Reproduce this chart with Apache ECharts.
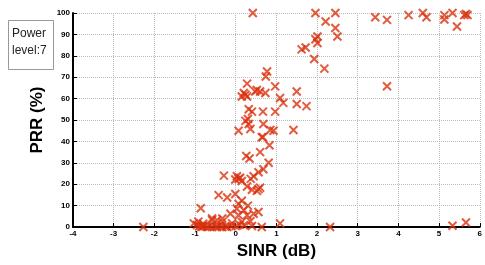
<!DOCTYPE html>
<html>
<head>
<meta charset="utf-8">
<title>PRR vs SINR</title>
<script src="https://cdn.jsdelivr.net/npm/echarts@6/dist/echarts.min.js"></script>
<style>
  html, body { margin: 0; padding: 0; background: #fff; }
  #chart { width: 485px; height: 265px; }
</style>
</head>
<body>
<div id="chart"></div>
<script>
// SINR (dB) / PRR (%) pairs
var sinr = [
  0.42, 1.96, 2.45, 2.21, 2.45, 2.5, 2.01, 1.96, 2.01, 1.62, 1.72, 1.93, 2.18,
  3.43, 3.72, 4.25, 4.6, 4.69, 5.13, 5.13, 5.33, 5.44, 5.62, 5.7, 5.66, 3.72,
  0.77, 0.74, 0.28, 0.97, 0.2, 0.15, 0.24, 0.28, 0.52, 0.6, 0.48, 0.73, 1.5, 1.09, 1.17, 1.5, 1.74,
  0.32, 0.4, 0.67, 0.97, 0.24, 0.32, 0.36, 0.07, 0.68, 0.85, 0.93, 0.64, 1.42, 0.3,
  0.67, 0.83, 0.6, 0.26, 0.34, 0.81, 0.68, 0.56, 0.44, 0.37, -0.29, 0.03, 0.07, 0.11, -0.01, 0.15,
  0.28, 0.56, 0.4, 0.52, 0.6,
  -0.42, -0.21, -0.01, 0.15, 0.07, 0.03, 0.2, 0.3, -0.86, -0.13, 0.07, 0.28, 0.44, 0.56,
  -0.58, -0.33, -0.09, 0.15, 0.36, 0.64, 1.09, 2.32, 5.33, 5.66, -2.27, -0.58, -0.33, -0.46,
  -1.03, -0.95, -0.9, -0.85, -0.82, -0.78, -0.7, -0.65, -0.58, -0.5, -0.46, -0.38, -0.33,
  -0.25, -0.21, -0.1, 0.0, 0.1, 0.2, 0.4, -0.92, -0.8
];
var prr = [
  100, 100, 100, 96, 93, 89, 89, 87.7, 86, 83, 83.9, 78.5, 74,
  98, 96.8, 99, 100, 98, 99, 97, 100, 93.7, 99, 99, 99.5, 65.8,
  72.7, 70.3, 67, 65.7, 62.6, 61, 61.8, 61, 64, 63.3, 63.3, 62.6, 63.3, 60.3, 58, 57.5, 56.5,
  55, 53.9, 53.9, 53.9, 49.6, 48.1, 45.8, 45, 48.1, 45.3, 45, 42, 45.3, 50.5,
  42, 38.2, 35, 33.2, 32, 30, 27, 25.6, 23.7, 22.5, 24, 23.7, 22.5, 23, 22.2, 21.5,
  18.9, 17.7, 17.4, 16.9, 18.4,
  14.9, 13.8, 15.4, 12.3, 10.8, 8.5, 7.8, 10, 8.8, 6.2, 5.5, 5.5, 6.2, 7,
  3.2, 2.4, 1.7, 2.4, 2.7, 0, 1.7, 0, 0.6, 2.1, 0, 4, 4, 3.2,
  1.7, 0.9, 0.3, 0.2, 0.1, 0.5, 0, 0.3, 0, 0.2, 0, 0.4, 0,
  0.2, 0, 0.3, 0.5, 1.0, 0.8, 0.5, 2.5, 1.5
];

var points = sinr.map(function (x, i) { return [x, prr[i]]; });

var chart = echarts.init(document.getElementById('chart'));
var labelFont = { fontFamily: 'Liberation Sans, Arial, sans-serif', fontWeight: 'bold', fontSize: 8, color: '#000' };

chart.setOption({
  animation: false,
  title: {
    text: 'Power\nlevel:7',
    left: 8,
    top: 20,
    padding: [5, 7, 11, 4],
    borderColor: '#999',
    borderWidth: 1,
    textStyle: { fontFamily: 'Liberation Sans, Arial, sans-serif', fontWeight: 'normal', fontSize: 12, lineHeight: 17, color: '#222' }
  },
  grid: { left: 73, right: 3, top: 13, bottom: 33 },
  xAxis: {
    type: 'value', min: -4, max: 6, interval: 1,
    name: 'SINR (dB)', nameLocation: 'middle', nameGap: 16,
    nameTextStyle: { fontFamily: 'Liberation Sans, Arial, sans-serif', fontWeight: 'bold', fontSize: 17, color: '#000' },
    axisLine: { onZero: false, lineStyle: { color: '#000', width: 2 } },
    axisTick: { inside: true, length: 4, lineStyle: { color: '#000' } },
    axisLabel: Object.assign({ margin: 3 }, labelFont),
    splitLine: { show: true, lineStyle: { color: '#bbb', type: 'dotted' } }
  },
  yAxis: {
    type: 'value', min: 0, max: 100, interval: 10,
    name: 'PRR (%)', nameLocation: 'middle', nameGap: 26, nameRotate: 90,
    nameTextStyle: { fontFamily: 'Liberation Sans, Arial, sans-serif', fontWeight: 'bold', fontSize: 17, color: '#000' },
    axisLine: { show: true, onZero: false, lineStyle: { color: '#000', width: 2 } },
    axisTick: { show: true, inside: true, length: 4, lineStyle: { color: '#000' } },
    axisLabel: Object.assign({ margin: 3 }, labelFont),
    splitLine: { show: true, lineStyle: { color: '#bbb', type: 'dotted' } }
  },
  series: [{
    type: 'scatter',
    data: points,
    symbol: 'path://M0,0L10,10M10,0L0,10',
    symbolSize: 8,
    itemStyle: { color: 'rgba(0,0,0,0)', borderColor: '#d9320f', borderWidth: 2 }
  }]
});
</script>
</body>
</html>
